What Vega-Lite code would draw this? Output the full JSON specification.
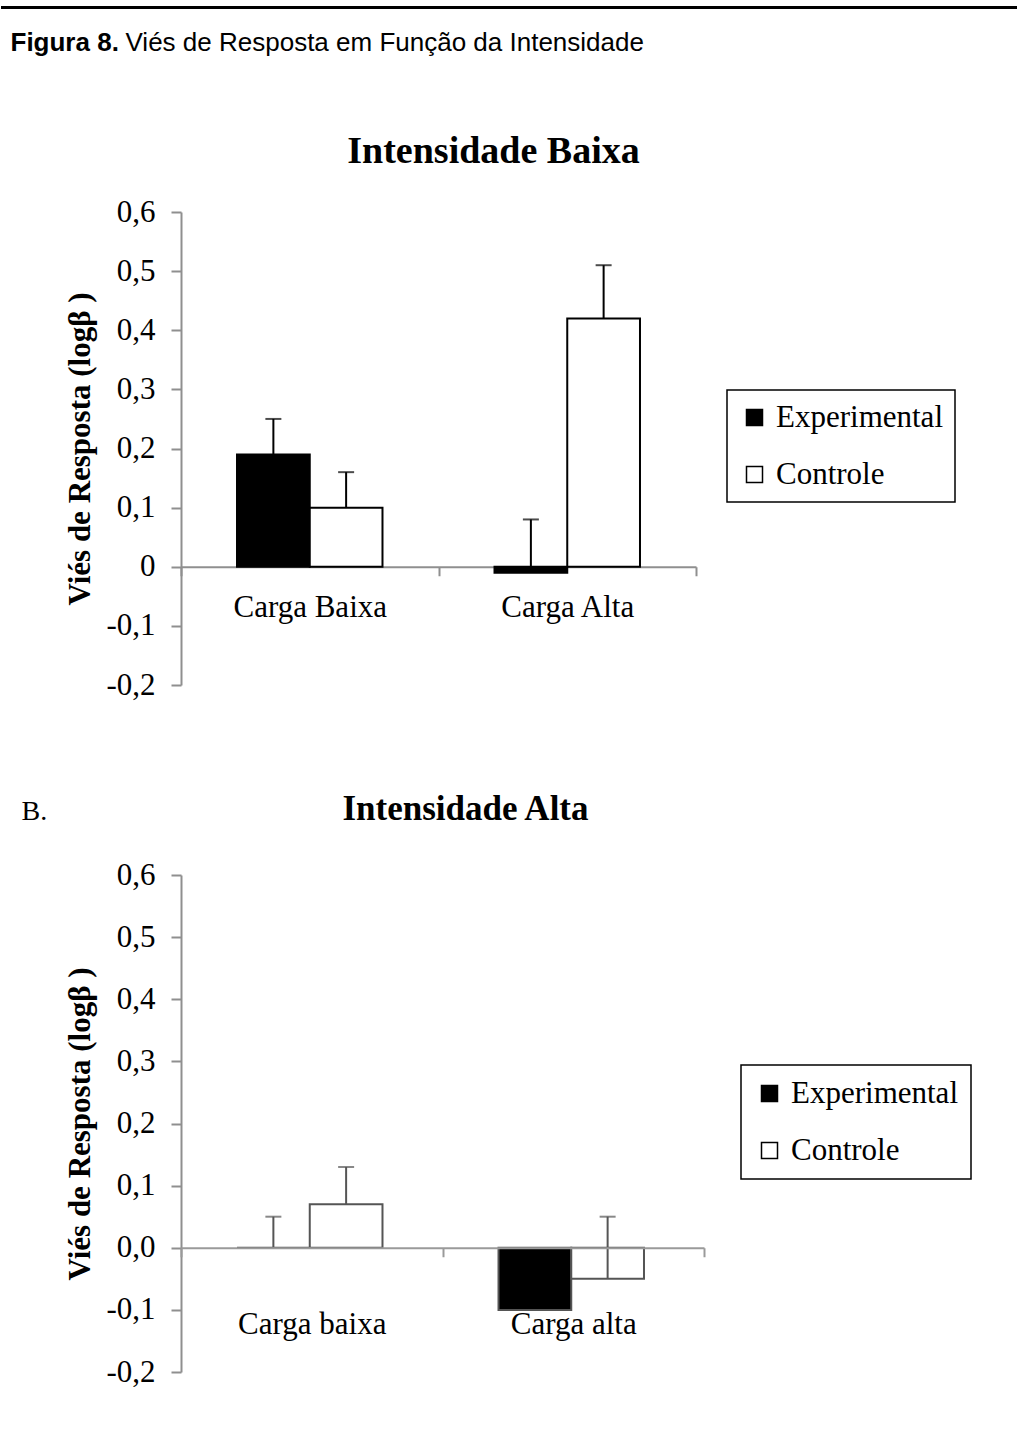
{
  "$schema": "https://vega.github.io/schema/vega-lite/v6.json",
  "background": "white",
  "padding": {"left": 0, "right": 0, "top": 5, "bottom": 0},
  "config": {
    "view": {"stroke": null},
    "font": "Liberation Serif",
    "axis": {"grid": false, "labelColor": "black", "titleColor": "black"}
  },
  "spacing": 78,
  "center": false,
  "align": "none",
  "resolve": {"legend": {"fill": "independent"}, "scale": {"fill": "independent"}},
  "vconcat": [
    {
      "width": 1016,
      "height": 1,
      "data": {"values": [{"p": 0}]},
      "mark": {"type": "point", "opacity": 0},
      "encoding": {
        "x": {"field": "p", "type": "quantitative", "scale": {"domain": [0, 1]},
          "axis": {"orient": "top", "position": -180.5, "domain": true, "domainColor": "black", "domainWidth": 3, "ticks": false, "labels": false,
            "title": "Figura 8.", "titleFont": "Liberation Sans", "titleFontSize": 26, "titleFontWeight": "bold",
            "titleX": 9.5, "titleY": 43, "titleAlign": "left", "titleBaseline": "alphabetic", "titleAngle": 0}},
        "y": {"field": "p", "type": "quantitative", "scale": {"domain": [0, 1]},
          "axis": {"domain": false, "ticks": false, "labels": false,
            "title": "Viés de Resposta em Função da Intensidade", "titleAngle": 0, "titleX": -56, "titleY": 43,
            "titleAlign": "left", "titleBaseline": "alphabetic", "titleFont": "Liberation Sans", "titleFontSize": 26, "titleFontWeight": "normal"}}
      }
    },
    {
      "spacing": 67,
      "center": false,
      "align": "all",
      "resolve": {"legend": {"fill": "independent"}, "scale": {"fill": "independent"}},
      "vconcat": [
        {
          "width": 515,
          "height": 473,
          "title": {"text": "Intensidade Baixa", "font": "Liberation Serif", "fontSize": 38, "fontWeight": "bold", "color": "black", "anchor": "middle", "dx": 55, "offset": -5, "baseline": "alphabetic"},
          "data": {"values": [
            {"carga": "Carga Baixa", "grupo": "Experimental", "valor": 0.19, "sup": 0.25},
            {"carga": "Carga Baixa", "grupo": "Controle", "valor": 0.10, "sup": 0.16},
            {"carga": "Carga Alta", "grupo": "Experimental", "valor": -0.01, "sup": 0.08},
            {"carga": "Carga Alta", "grupo": "Controle", "valor": 0.42, "sup": 0.51}
          ]},
          "encoding": {
            "x": {"field": "carga", "type": "nominal", "sort": ["Carga Baixa", "Carga Alta"], "scale": {"paddingInner": 0, "paddingOuter": 0},
              "axis": {"title": null, "orient": "bottom", "offset": -118.25, "domainColor": "#8f8f8f", "domainWidth": 2, "tickColor": "#8f8f8f", "tickWidth": 2, "tickSize": 9, "tickBand": "extent", "labelAngle": 0, "labelFont": "Liberation Serif", "labelFontSize": 31, "labelPadding": 17}},
            "xOffset": {"field": "grupo", "type": "nominal", "sort": ["Experimental", "Controle"], "scale": {"paddingInner": 0, "paddingOuter": 0.77}}
          },
          "layer": [
            {
              "mark": {"type": "bar", "stroke": "black", "strokeWidth": 2},
              "encoding": {
                "y": {"field": "valor", "type": "quantitative", "title": "Viés de Resposta (logβ )", "scale": {"domain": [-0.2, 0.6], "nice": false, "zero": false},
                  "axis": {"values": [-0.2, -0.1, 0, 0.1, 0.2, 0.3, 0.4, 0.5, 0.6], "labelExpr": "datum.value == 0 ? '0' : replace(replace(format(datum.value, '.1f'), '.', ','), '\u2212', '-')",
                    "domainColor": "#8f8f8f", "domainWidth": 2, "tickColor": "#8f8f8f", "tickWidth": 2, "tickSize": 10, "labelFont": "Liberation Serif", "labelFontSize": 31, "labelPadding": 16,
                    "titleFont": "Liberation Serif", "titleFontSize": 31, "titleFontWeight": "bold", "titlePadding": 9}},
                "fill": {"field": "grupo", "type": "nominal", "scale": {"domain": ["Experimental", "Controle"], "range": ["black", "white"]},
                  "legend": {"title": null, "orient": "none", "legendX": 546, "legendY": 178, "strokeColor": "black", "fillColor": "white", "padding": 12, "labelLimit": 400,
                    "symbolType": "square", "symbolSize": 256, "symbolStrokeColor": "black", "symbolStrokeWidth": 1.5, "labelFont": "Liberation Serif", "labelFontSize": 31, "labelColor": "black", "labelOffset": 6, "rowPadding": 25,
                    "encode": {"legend": {"update": {"strokeWidth": {"value": 1.5}}}}}}
              }
            },
            {
              "mark": {"type": "rule", "color": "black", "strokeWidth": 2},
              "encoding": {"y": {"field": "valor", "type": "quantitative", "title": "Viés de Resposta (logβ )"}, "y2": {"field": "sup"}}
            },
            {
              "mark": {"type": "tick", "color": "black", "thickness": 2, "size": 16},
              "encoding": {"y": {"field": "sup", "type": "quantitative", "title": "Viés de Resposta (logβ )"}}
            }
          ]
        },
        {
          "width": 523,
          "height": 497,
          "data": {"values": [
            {"carga": "Carga baixa", "grupo": "Experimental", "valor": 0, "sup": 0.05},
            {"carga": "Carga baixa", "grupo": "Controle", "valor": 0.07, "sup": 0.13},
            {"carga": "Carga alta", "grupo": "Experimental", "valor": -0.1, "sup": null},
            {"carga": "Carga alta", "grupo": "Controle", "valor": -0.05, "sup": 0.05}
          ]},
          "encoding": {
            "xOffset": {"field": "grupo", "type": "nominal", "sort": ["Experimental", "Controle"], "scale": {"paddingInner": 0, "paddingOuter": 0.74}}
          },
          "resolve": {"axis": {"x": "independent"}},
          "layer": [
            {
              "mark": {"type": "bar", "stroke": "#555555", "strokeWidth": 2},
              "encoding": {
                "x": {"field": "carga", "type": "nominal", "sort": ["Carga baixa", "Carga alta"], "scale": {"paddingInner": 0, "paddingOuter": 0},
                  "axis": {"title": "B.", "titleFont": "Liberation Serif", "titleFontSize": 28, "titleFontWeight": "normal", "titleX": -160, "titleY": -428.75, "titleAlign": "left", "titleBaseline": "alphabetic", "titleAngle": 0,
                    "orient": "bottom", "offset": -124.25, "zindex": 1, "domainColor": "#9a9a9a", "domainWidth": 2, "tickColor": "#9a9a9a", "tickWidth": 2, "tickSize": 9, "tickBand": "extent", "labelAngle": 0, "labelFont": "Liberation Serif", "labelFontSize": 31, "labelPadding": 53}},
                "y": {"field": "valor", "type": "quantitative", "title": "Viés de Resposta (logβ )", "scale": {"domain": [-0.2, 0.6], "nice": false, "zero": false},
                  "axis": {"values": [-0.2, -0.1, 0, 0.1, 0.2, 0.3, 0.4, 0.5, 0.6], "labelExpr": "replace(replace(format(datum.value, '.1f'), '.', ','), '\u2212', '-')",
                    "domainColor": "#8f8f8f", "domainWidth": 2, "tickColor": "#8f8f8f", "tickWidth": 2, "tickSize": 10, "labelFont": "Liberation Serif", "labelFontSize": 31, "labelPadding": 16,
                    "titleFont": "Liberation Serif", "titleFontSize": 31, "titleFontWeight": "bold", "titlePadding": 9}},
                "fill": {"field": "grupo", "type": "nominal", "scale": {"domain": ["Experimental", "Controle"], "range": ["black", "white"]},
                  "legend": {"title": null, "orient": "none", "legendX": 560, "legendY": 190, "strokeColor": "black", "fillColor": "white", "padding": 13, "labelLimit": 400,
                    "symbolType": "square", "symbolSize": 256, "symbolStrokeColor": "black", "symbolStrokeWidth": 1.5, "labelFont": "Liberation Serif", "labelFontSize": 31, "labelColor": "black", "labelOffset": 6, "rowPadding": 25,
                    "encode": {"legend": {"update": {"strokeWidth": {"value": 1.5}}}}}}
              }
            },
            {
              "mark": {"type": "rule", "color": "#555555", "strokeWidth": 2},
              "encoding": {
                "x": {"field": "carga", "type": "nominal", "sort": ["Carga baixa", "Carga alta"],
                  "axis": {"orient": "top", "domain": false, "ticks": false, "labels": false, "title": "Intensidade Alta", "titleFont": "Liberation Serif", "titleFontSize": 35, "titleFontWeight": "bold",
                    "titleX": 284, "titleY": -56, "titleAlign": "center", "titleBaseline": "alphabetic", "titleAngle": 0}},
                "y": {"field": "valor", "type": "quantitative", "title": "Viés de Resposta (logβ )"},
                "y2": {"field": "sup"}
              }
            },
            {
              "mark": {"type": "tick", "color": "#555555", "thickness": 2, "size": 16},
              "encoding": {
                "x": {"field": "carga", "type": "nominal", "sort": ["Carga baixa", "Carga alta"], "axis": null},
                "y": {"field": "sup", "type": "quantitative", "title": "Viés de Resposta (logβ )"}
              }
            }
          ]
        }
      ]
    }
  ]
}
